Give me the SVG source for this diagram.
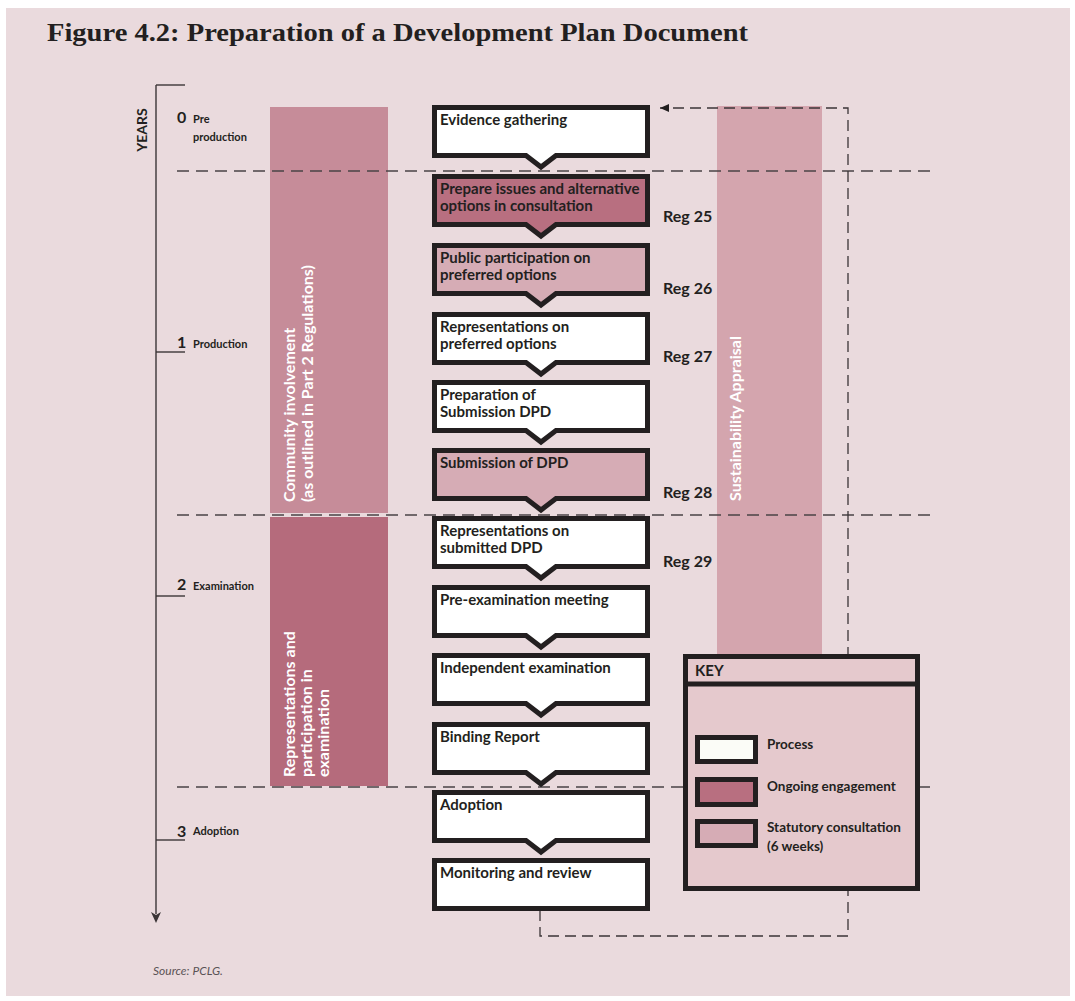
<svg xmlns="http://www.w3.org/2000/svg" width="1075" height="1001" viewBox="0 0 1075 1001">
<defs>
<style>
.bx{stroke:#231f20;stroke-width:5;stroke-linejoin:miter}
.w{fill:#ffffff}
.og{fill:#b86f80}
.st{fill:#d6acb5}
.t{font-family:Lato,"Liberation Sans",sans-serif;font-weight:bold;font-size:15px;fill:#231f20}
.reg{font-family:Lato,"Liberation Sans",sans-serif;font-weight:bold;font-size:16px;fill:#231f20}
.ax{font-family:Lato,"Liberation Sans",sans-serif;font-weight:bold;fill:#231f20}
.vt{font-family:Lato,"Liberation Sans",sans-serif;font-weight:bold;font-size:16px;fill:#ffffff}
.grid{stroke:#4a4345;stroke-width:1.4;stroke-dasharray:12 7;fill:none}
.loop{stroke:#3b3537;stroke-width:1.3;stroke-dasharray:11 6;fill:none}
</style>
<marker id="ah" markerWidth="10" markerHeight="10" refX="9" refY="5" orient="auto" markerUnits="userSpaceOnUse">
<path d="M0,1 L9,5 L0,9 Z" fill="#231f20"/>
</marker>
</defs>
<rect x="0" y="0" width="1075" height="1001" fill="#ffffff"/>
<rect x="6" y="8" width="1064" height="988" fill="#eadadd"/>
<text x="47" y="41" font-family="'Liberation Serif',serif" font-weight="bold" font-size="26" fill="#231f20" textLength="701" lengthAdjust="spacingAndGlyphs">Figure 4.2: Preparation of a Development Plan Document</text>

<g id="axis">
<line x1="156" y1="85" x2="156" y2="914" stroke="#3b3537" stroke-width="1.4"/>
<path d="M151,912 L156,923 L161,912 L156,915 Z" fill="#3b3537"/>
<line x1="156" y1="85" x2="185" y2="85" stroke="#3b3537" stroke-width="1.4"/>
<line x1="156" y1="352" x2="185" y2="352" stroke="#3b3537" stroke-width="1.4"/>
<line x1="156" y1="596" x2="185" y2="596" stroke="#3b3537" stroke-width="1.4"/>
<line x1="156" y1="840" x2="185" y2="840" stroke="#3b3537" stroke-width="1.4"/>
<text class="ax" font-size="14" transform="translate(147,130) rotate(-90)" text-anchor="middle">YEARS</text>
<text class="ax" font-size="16" x="177" y="123">0</text>
<text class="ax" font-size="11" x="193" y="123">Pre</text>
<text class="ax" font-size="11" x="193" y="141">production</text>
<text class="ax" font-size="16" x="177" y="348">1</text>
<text class="ax" font-size="11" x="193" y="348">Production</text>
<text class="ax" font-size="16" x="177" y="590">2</text>
<text class="ax" font-size="11" x="193" y="590">Examination</text>
<text class="ax" font-size="16" x="177" y="837">3</text>
<text class="ax" font-size="11" x="193" y="835">Adoption</text>
</g>

<g id="community-involvement">
<rect x="270" y="107" width="118" height="406" fill="#c68c99"/>
<text class="vt" transform="translate(295,502) rotate(-90)">Community involvement</text>
<text class="vt" transform="translate(313,502) rotate(-90)">(as outlined in Part 2 Regulations)</text>
</g>
<g id="representations-participation">
<rect x="270" y="517" width="118" height="269" fill="#b56b7c"/>
<text class="vt" transform="translate(295,777) rotate(-90)">Representations and</text>
<text class="vt" transform="translate(312,777) rotate(-90)">participation in</text>
<text class="vt" transform="translate(329,777) rotate(-90)">examination</text>
</g>
<g id="sustainability-appraisal">
<rect x="717" y="106" width="105" height="560" fill="#d4a5ae"/>
<text class="vt" fill="#f7ecee" transform="translate(741,501) rotate(-90)">Sustainability Appraisal</text>
</g>

<g id="year-dividers">
<line class="grid" x1="177" y1="171" x2="933" y2="171"/>
<line class="grid" x1="177" y1="515" x2="933" y2="515"/>
<line class="grid" x1="177" y1="787" x2="933" y2="787"/>
</g>

<g id="connectors">
<path class="loop" d="M540,910 V936 H848 V108 H660" marker-end="url(#ah)"/>
</g>

<g id="n1"><path class="bx w" d="M434.5,107.5 H647.5 V155.5 H556 L541,167 L526,155.5 H434.5 Z"/><text class="t" x="440" y="125">Evidence gathering</text></g>
<g id="n2"><path class="bx og" d="M434.5,176.5 H647.5 V224.5 H556 L541,236 L526,224.5 H434.5 Z"/><text class="t" x="440" y="194">Prepare issues and alternative</text><text class="t" x="440" y="211">options in consultation</text></g>
<g id="n3"><path class="bx st" d="M434.5,245.5 H647.5 V293.5 H556 L541,305 L526,293.5 H434.5 Z"/><text class="t" x="440" y="263">Public participation on</text><text class="t" x="440" y="280">preferred options</text></g>
<g id="n4"><path class="bx w" d="M434.5,314.5 H647.5 V362.5 H556 L541,374 L526,362.5 H434.5 Z"/><text class="t" x="440" y="332">Representations on</text><text class="t" x="440" y="349">preferred options</text></g>
<g id="n5"><path class="bx w" d="M434.5,382.5 H647.5 V430.5 H556 L541,442 L526,430.5 H434.5 Z"/><text class="t" x="440" y="400">Preparation of</text><text class="t" x="440" y="417">Submission DPD</text></g>
<g id="n6"><path class="bx st" d="M434.5,450.5 H647.5 V498.5 H556 L541,510 L526,498.5 H434.5 Z"/><text class="t" x="440" y="468">Submission of DPD</text></g>
<g id="n7"><path class="bx w" d="M434.5,518.5 H647.5 V566.5 H556 L541,578 L526,566.5 H434.5 Z"/><text class="t" x="440" y="536">Representations on</text><text class="t" x="440" y="553">submitted DPD</text></g>
<g id="n8"><path class="bx w" d="M434.5,587.5 H647.5 V635.5 H556 L541,647 L526,635.5 H434.5 Z"/><text class="t" x="440" y="605">Pre-examination meeting</text></g>
<g id="n9"><path class="bx w" d="M434.5,655.5 H647.5 V703.5 H556 L541,715 L526,703.5 H434.5 Z"/><text class="t" x="440" y="673">Independent examination</text></g>
<g id="n10"><path class="bx w" d="M434.5,724.5 H647.5 V772.5 H556 L541,784 L526,772.5 H434.5 Z"/><text class="t" x="440" y="742">Binding Report</text></g>
<g id="n11"><path class="bx w" d="M434.5,792.5 H647.5 V840.5 H556 L541,852 L526,840.5 H434.5 Z"/><text class="t" x="440" y="810">Adoption</text></g>
<g id="n12"><path class="bx w" d="M434.5,860.5 H647.5 V908.5 H434.5 Z"/><text class="t" x="440" y="878">Monitoring and review</text></g>

<g id="regs">
<text class="reg" x="663" y="222">Reg 25</text>
<text class="reg" x="663" y="294">Reg 26</text>
<text class="reg" x="663" y="362">Reg 27</text>
<text class="reg" x="663" y="498">Reg 28</text>
<text class="reg" x="663" y="567">Reg 29</text>
</g>

<g id="key">
<rect x="685.5" y="656.5" width="232" height="232" fill="#e5c9cd" stroke="#231f20" stroke-width="5"/>
<line x1="685.5" y1="684" x2="917.5" y2="684" stroke="#231f20" stroke-width="5"/>
<text class="ax" font-size="15" x="695" y="676">KEY</text>
<rect x="697.5" y="737.5" width="58" height="24" fill="#fbfcf7" stroke="#231f20" stroke-width="5"/>
<rect x="697.5" y="779.5" width="58" height="25" fill="#b86f80" stroke="#231f20" stroke-width="5"/>
<rect x="697.5" y="821.5" width="58" height="24" fill="#d6acb5" stroke="#231f20" stroke-width="5"/>
<text class="ax" font-size="13.5" x="767" y="749">Process</text>
<text class="ax" font-size="13.5" x="767" y="791">Ongoing engagement</text>
<text class="ax" font-size="13.5" x="767" y="832">Statutory consultation</text>
<text class="ax" font-size="13.5" x="767" y="851">(6 weeks)</text>
</g>

<text x="153" y="975" font-family="Lato,'Liberation Sans',sans-serif" font-style="italic" font-size="12" fill="#5a5355">Source: PCLG.</text>
</svg>
